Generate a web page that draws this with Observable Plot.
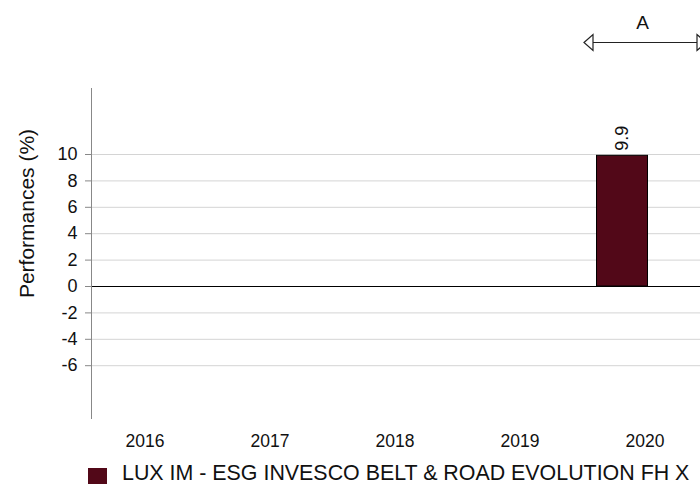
<!DOCTYPE html>
<html>
<head>
<meta charset="utf-8">
<script src="https://cdn.jsdelivr.net/npm/d3@7"></script>
<script src="https://cdn.jsdelivr.net/npm/@observablehq/plot@0.6"></script>
<style>
  html, body { margin: 0; padding: 0; background: #fff; }
  #wrap { position: relative; width: 700px; height: 484px; overflow: hidden; font-family: "Liberation Sans", Arial, sans-serif; }
  #legend { position: absolute; left: 88px; top: 462px; display: flex; align-items: center; white-space: nowrap; }
  #legend .sw { width: 19px; height: 16px; margin-top: 5px; margin-right: 15px; }
  #legend .lb { font-size: 21.4px; color: #111; line-height: 22px; }
</style>
</head>
<body>
<div id="wrap"></div>
<script>
const years = ["2016", "2017", "2018", "2019", "2020"];
const fundValues = [null, null, null, null, 9.9];
const fundName = "LUX IM - ESG INVESCO BELT & ROAD EVOLUTION FH X";
const yTicks = [-6, -4, -2, 0, 2, 4, 6, 8, 10];
const periodLabel = "A";
const periodYear = "2020";
const yLabel = "Performances (%)";
const barColor = "#520818";

const data = years.map((y, i) => ({year: y, value: fundValues[i]})).filter(d => d.value != null);

const fontFamily = "Liberation Sans, Arial, sans-serif";

// open isoceles arrowhead, tip at the anchor, pointing up before rotation
const arrowHead = {
  draw(context) {
    context.moveTo(0, 0);
    context.lineTo(8, 9);
    context.lineTo(-8, 9);
    context.closePath();
  }
};

const chart = Plot.plot({
  width: 700,
  height: 452,
  marginLeft: 91,
  marginRight: 0,
  marginTop: 88,
  marginBottom: 34,
  style: {fontFamily, fontSize: "18px", color: "#111", background: "#fff", overflow: "hidden"},
  x: {type: "band", domain: years, range: [81.5, 706.5], padding: 0, axis: null},
  y: {domain: [-10, 15], axis: null},
  marks: [
    Plot.gridY(yTicks, {stroke: "#d4d4d4", strokeOpacity: 1, strokeWidth: 1}),
    Plot.ruleY([0], {stroke: "#000", strokeWidth: 1}),
    Plot.frame({anchor: "left", stroke: "#888", strokeWidth: 1}),
    Plot.axisY({ticks: yTicks, tickSize: 6, tickPadding: 8, stroke: "#888", fontSize: 18, label: null, tickFormat: d => String(d)}),
    Plot.axisX({tickSize: 0, tickPadding: 16, fontSize: 17.5, label: null}),
    Plot.barY(data, {x: "year", y: "value", fill: barColor, stroke: "#000", strokeWidth: 1, insetLeft: 14.5, insetRight: 59.5}),
    Plot.text(data, {x: "year", y: "value", text: d => d.value.toFixed(1), rotate: -90, textAnchor: "start", dx: -22.5, dy: -5, fontSize: 18, fill: "#111"}),
    Plot.text([yLabel], {frameAnchor: "left", rotate: -90, textAnchor: "middle", dx: -64, dy: -40, fontSize: 21, fill: "#111"}),
    Plot.text([periodLabel], {x: () => periodYear, y: () => 15, dx: -2.5, dy: -66, fontSize: 19, fill: "#111"}),
    Plot.tickY([periodYear], {x: d => d, y: () => 15, dy: -46, stroke: "#222", strokeWidth: 1.2, insetLeft: 3, insetRight: 3}),
    Plot.dot([periodYear], {x: d => d, y: () => 15, dy: -46, dx: -61, symbol: arrowHead, rotate: -90, r: 6, fill: "#fff", stroke: "#222", strokeWidth: 1.2}),
    Plot.dot([periodYear], {x: d => d, y: () => 15, dy: -46, dx: 61, symbol: arrowHead, rotate: 90, r: 6, fill: "#fff", stroke: "#222", strokeWidth: 1.2})
  ]
});

const wrap = document.getElementById("wrap");
wrap.appendChild(chart);
const legend = document.createElement("div");
legend.id = "legend";
legend.innerHTML = `<div class="sw" style="background:${barColor}"></div><div class="lb"></div>`;
legend.querySelector(".lb").textContent = fundName;
wrap.appendChild(legend);
</script>
</body>
</html>
